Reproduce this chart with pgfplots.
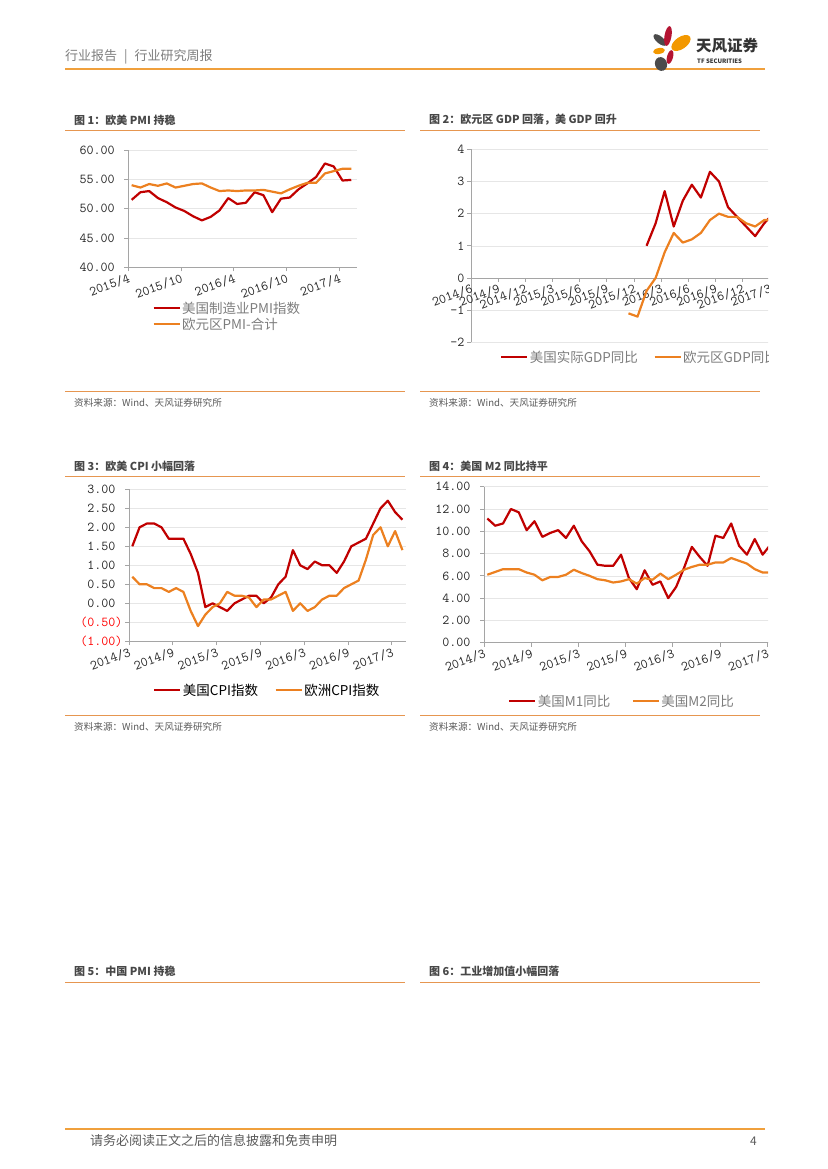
\documentclass[border=0pt]{standalone}
\usepackage{fontspec}
\usepackage{pgfplots}
\pgfplotsset{compat=1.18}
\newfontfamily\cjk{Noto Sans CJK SC}

\definecolor{usred}{RGB}{192,0,0}
\definecolor{euor}{RGB}{236,128,32}
\definecolor{rulec}{RGB}{230,150,80}
\definecolor{hdr}{RGB}{240,160,60}
\definecolor{axgray}{RGB}{165,165,165}
\definecolor{gridgray}{RGB}{230,230,230}
\definecolor{txtgray}{RGB}{125,125,125}
\definecolor{logored}{RGB}{180,20,50}
\definecolor{logoor}{RGB}{243,152,0}
\definecolor{logogray}{RGB}{75,75,75}

\pgfplotsset{
  pane/.style={scale only axis, anchor=south west,
    axis x line*=bottom, axis y line*=left,
    axis line style={axgray, line width=0.8pt},
    tick style={axgray, line width=0.8pt},
    tick align=outside, major tick length=4pt,
    ymajorgrids, grid style={gridgray, line width=0.6pt},
    tick label style={font=\fontsize{13.6}{14}\selectfont\ttfamily, text=black!85},
    xticklabel style={rotate=20, anchor=north east, inner sep=1pt},
    yticklabel style={anchor=east, inner sep=2.5pt},
    legend cell align=left,
    legend style={draw=none, fill=none, inner sep=0pt,
      font=\fontsize{13.5}{15}\selectfont\cjk, text=txtgray,
      nodes={inner sep=1.5pt}},
    legend image code/.code={\draw[#1] (0pt,0pt) -- (26pt,0pt);},
  },
  ser/.style={line width=2.2pt, line join=round, mark=none},
}

\begin{document}
\begin{tikzpicture}
\path (0pt,0pt) rectangle (827pt,-1169pt);

\begin{scope}[x=1pt,y=-1pt]
% header
\node[anchor=west, font=\fontsize{13}{14}\selectfont\cjk, text=txtgray, inner sep=0pt] at (65,57) {行业报告\hspace{7pt}|\hspace{7pt}行业研究周报};
\draw[hdr, line width=1.8pt] (65,69) -- (765,69);
% logo
\fill[logogray, rotate around={-40:(660,40)}] (660,40) ellipse (8 and 3.5);
\fill[logored, rotate around={-10:(668,36)}] (668,36) ellipse (3.5 and 10);
\fill[logoor, rotate around={35:(681,43)}] (681,43) ellipse (11 and 6);
\fill[logoor, rotate around={10:(659,51)}] (659,51) ellipse (6 and 3);
\fill[logored, rotate around={-15:(670,57)}] (670,57) ellipse (3 and 7);
\fill[logogray, rotate around={20:(661,64)}] (661,64) ellipse (6 and 7);
\node[anchor=west, font=\fontsize{15.5}{16}\selectfont\cjk\bfseries, text=black!80, inner sep=0pt] at (696,46) {天风证券};
\node[anchor=west, font=\fontsize{6}{6}\selectfont\cjk\bfseries, text=black!80, inner sep=0pt] at (697,61) {TF SECURITIES};

% titles and rules
\foreach \xa/\ya/\t in {74/120/{图 1：欧美 PMI 持稳}, 429/120/{图 2：欧元区 GDP 回落，美 GDP 回升},
  74/466/{图 3：欧美 CPI 小幅回落}, 429/466/{图 4：美国 M2 同比持平},
  74/971/{图 5：中国 PMI 持稳}, 429/971/{图 6：工业增加值小幅回落}}
  \node[anchor=west, font=\fontsize{11}{12}\selectfont\cjk\bfseries, text=black!72, inner sep=0pt] at (\xa,\ya) {\t};
\foreach \ya in {130,476.5,982}{
  \draw[rulec, line width=0.8pt] (65,\ya) -- (405,\ya);
  \draw[rulec, line width=0.8pt] (420,\ya) -- (760,\ya);}
\foreach \ya in {391,715}{
  \draw[rulec, line width=0.8pt] (65,\ya) -- (405,\ya);
  \draw[rulec, line width=0.8pt] (420,\ya) -- (760,\ya);
  \node[anchor=west, font=\fontsize{9.6}{10}\selectfont\cjk, text=black!65, inner sep=0pt] at (74,\ya+12) {资料来源：Wind、天风证券研究所};
  \node[anchor=west, font=\fontsize{9.6}{10}\selectfont\cjk, text=black!65, inner sep=0pt] at (429,\ya+12) {资料来源：Wind、天风证券研究所};}
% footer
\draw[hdr, line width=1.8pt] (65,1129) -- (765,1129);
\node[anchor=west, font=\fontsize{13}{14}\selectfont\cjk, text=black!65, inner sep=0pt] at (90,1141) {请务必阅读正文之后的信息披露和免责申明};
\node[anchor=east, font=\fontsize{12}{13}\selectfont\cjk, text=black!65, inner sep=0pt] at (757,1141) {4};
\end{scope}

% ---------- Fig 1: PMI ----------
\begin{axis}[pane, at={(128.3pt,-267.3pt)}, width=228.4pt, height=117.3pt,
  xmin=0, xmax=26, ymin=40, ymax=60,
  xtick={0,6,12,18,24}, xticklabels={2015/4,2015/10,2016/4,2016/10,2017/4},
  ytick={40,45,50,55,60},
  yticklabels={40.00\phantom{)},45.00\phantom{)},50.00\phantom{)},55.00\phantom{)},60.00\phantom{)}},
  legend style={at={(0.105,-0.28)}, anchor=north west}, legend columns=1]
\addplot[ser, usred] table {
0.38 51.5
1.38 52.8
2.38 53.0
3.38 51.8
4.38 51.1
5.38 50.2
6.38 49.6
7.38 48.7
8.38 48.0
9.38 48.6
10.38 49.7
11.38 51.8
12.38 50.8
13.38 51.0
14.38 52.8
15.38 52.3
16.38 49.4
17.38 51.7
18.38 51.9
19.38 53.3
20.38 54.3
21.38 55.4
22.38 57.7
23.38 57.2
24.38 54.8
25.38 54.9
};
\addlegendentry{美国制造业PMI指数}
\addplot[ser, euor] table {
0.38 54.0
1.38 53.6
2.38 54.2
3.38 53.9
4.38 54.3
5.38 53.6
6.38 53.9
7.38 54.2
8.38 54.3
9.38 53.6
10.38 53.0
11.38 53.1
12.38 53.0
13.38 53.1
14.38 53.1
15.38 53.2
16.38 52.9
17.38 52.6
18.38 53.3
19.38 53.9
20.38 54.4
21.38 54.4
22.38 56.0
23.38 56.4
24.38 56.8
25.38 56.8
};
\addlegendentry{欧元区PMI-合计}
\end{axis}

% ---------- Fig 3: CPI ----------
\begin{axis}[pane, at={(129pt,-641.3pt)}, width=276.7pt, height=152pt,
  xmin=0, xmax=37.9, ymin=-1, ymax=3,
  xtick={0,6,...,36}, xticklabels={2014/3,2014/9,2015/3,2015/9,2016/3,2016/9,2017/3},
  ytick={-1,-0.5,...,3},
  yticklabels={\textcolor{red}{(1.00)},\textcolor{red}{(0.50)},0.00\phantom{)},0.50\phantom{)},1.00\phantom{)},1.50\phantom{)},2.00\phantom{)},2.50\phantom{)},3.00\phantom{)}},
  legend style={at={(0.087,-0.268)}, anchor=north west, text=black,
    /tikz/every even column/.append style={column sep=15pt}}, legend columns=2]
\addplot[ser, usred] table {
0.45 1.5
1.45 2.0
2.45 2.1
3.45 2.1
4.45 2.0
5.45 1.7
6.45 1.7
7.45 1.7
8.45 1.3
9.45 0.8
10.45 -0.1
11.45 0.0
12.45 -0.1
13.45 -0.2
14.45 0.0
15.45 0.1
16.45 0.2
17.45 0.2
18.45 0.0
19.45 0.15
20.45 0.5
21.45 0.7
22.45 1.4
23.45 1.0
24.45 0.9
25.45 1.1
26.45 1.0
27.45 1.0
28.45 0.8
29.45 1.1
30.45 1.5
31.45 1.6
32.45 1.7
33.45 2.1
34.45 2.5
35.45 2.7
36.45 2.4
37.45 2.2
};
\addlegendentry{美国CPI指数}
\addplot[ser, euor] table {
0.45 0.7
1.45 0.5
2.45 0.5
3.45 0.4
4.45 0.4
5.45 0.3
6.45 0.4
7.45 0.3
8.45 -0.2
9.45 -0.6
10.45 -0.3
11.45 -0.1
12.45 0.0
13.45 0.3
14.45 0.2
15.45 0.2
16.45 0.15
17.45 -0.1
18.45 0.1
19.45 0.1
20.45 0.2
21.45 0.3
22.45 -0.2
23.45 0.0
24.45 -0.2
25.45 -0.1
26.45 0.1
27.45 0.2
28.45 0.2
29.45 0.4
30.45 0.5
31.45 0.6
32.45 1.15
33.45 1.8
34.45 2.0
35.45 1.5
36.45 1.9
37.45 1.4
};
\addlegendentry{欧洲CPI指数}
\end{axis}

\begin{scope}
\clip (0pt,0pt) rectangle (768pt,-1169pt);
% ---------- Fig 2: GDP ----------
\begin{axis}[pane, at={(471pt,-342.3pt)}, width=307.7pt, height=193pt,
  axis x line*=middle, hide obscured x ticks=false,
  xmin=0, xmax=34, ymin=-2, ymax=4,
  xtick={0,3,...,33},
  xticklabels={2014/6,2014/9,2014/12,2015/3,2015/6,2015/9,2015/12,2016/3,2016/6,2016/9,2016/12,2017/3},
  ytick={-2,-1,...,4}, yticklabels={-2,-1,0,1,2,3,4},
  legend style={at={(0.094,-0.035)}, anchor=north west,
    /tikz/every even column/.append style={column sep=14pt}}, legend columns=2]
\addplot[ser, usred] table {
19.4 1.0
20.4 1.7
21.4 2.7
22.4 1.6
23.4 2.4
24.4 2.9
25.4 2.5
26.4 3.3
27.4 3.0
28.4 2.2
29.4 1.9
30.4 1.6
31.4 1.3
32.4 1.7
33.4 2.0
};
\addlegendentry{美国实际GDP同比}
\addplot[ser, euor] table {
17.4 -1.1
18.4 -1.2
19.4 -0.4
20.4 0.0
21.4 0.8
22.4 1.4
23.4 1.1
24.4 1.2
25.4 1.4
26.4 1.8
27.4 2.0
28.4 1.9
29.4 1.9
30.4 1.7
31.4 1.6
32.4 1.8
33.4 1.8
};
\addlegendentry{欧元区GDP同比}
\end{axis}

% ---------- Fig 4: M1 / M2 ----------
\begin{axis}[pane, at={(484pt,-642.7pt)}, width=295pt, height=156pt,
  xmin=0, xmax=37.5, ymin=0, ymax=14,
  xtick={0,6,...,36}, xticklabels={2014/3,2014/9,2015/3,2015/9,2016/3,2016/9,2017/3},
  ytick={0,2,...,14},
  yticklabels={0.00\phantom{)},2.00\phantom{)},4.00\phantom{)},6.00\phantom{)},8.00\phantom{)},10.00\phantom{)},12.00\phantom{)},14.00\phantom{)}},
  legend style={at={(0.081,-0.322)}, anchor=north west,
    /tikz/every even column/.append style={column sep=20pt}}, legend columns=2]
\addplot[ser, usred] table {
0.42 11.15
1.42 10.5
2.42 10.7
3.42 12.0
4.42 11.7
5.42 10.1
6.42 10.9
7.42 9.5
8.42 9.85
9.42 10.1
10.42 9.4
11.42 10.5
12.42 9.1
13.42 8.2
14.42 7.0
15.42 6.9
16.42 6.9
17.42 7.9
18.42 5.8
19.42 4.8
20.42 6.5
21.42 5.2
22.42 5.5
23.42 4.0
24.42 5.0
25.42 6.7
26.42 8.6
27.42 7.7
28.42 6.9
29.42 9.6
30.42 9.4
31.42 10.7
32.42 8.7
33.42 7.9
34.42 9.3
35.42 7.9
36.42 8.8
};
\addlegendentry{美国M1同比}
\addplot[ser, euor] table {
0.42 6.1
1.42 6.35
2.42 6.6
3.42 6.6
4.42 6.6
5.42 6.3
6.42 6.1
7.42 5.6
8.42 5.9
9.42 5.9
10.42 6.1
11.42 6.55
12.42 6.25
13.42 6.0
14.42 5.7
15.42 5.6
16.42 5.4
17.42 5.5
18.42 5.7
19.42 5.3
20.42 5.8
21.42 5.65
22.42 6.2
23.42 5.7
24.42 6.1
25.42 6.55
26.42 6.8
27.42 7.0
28.42 7.0
29.42 7.2
30.42 7.2
31.42 7.6
32.42 7.35
33.42 7.1
34.42 6.6
35.42 6.3
36.42 6.3
};
\addlegendentry{美国M2同比}
\end{axis}
\end{scope}
\end{tikzpicture}
\end{document}
